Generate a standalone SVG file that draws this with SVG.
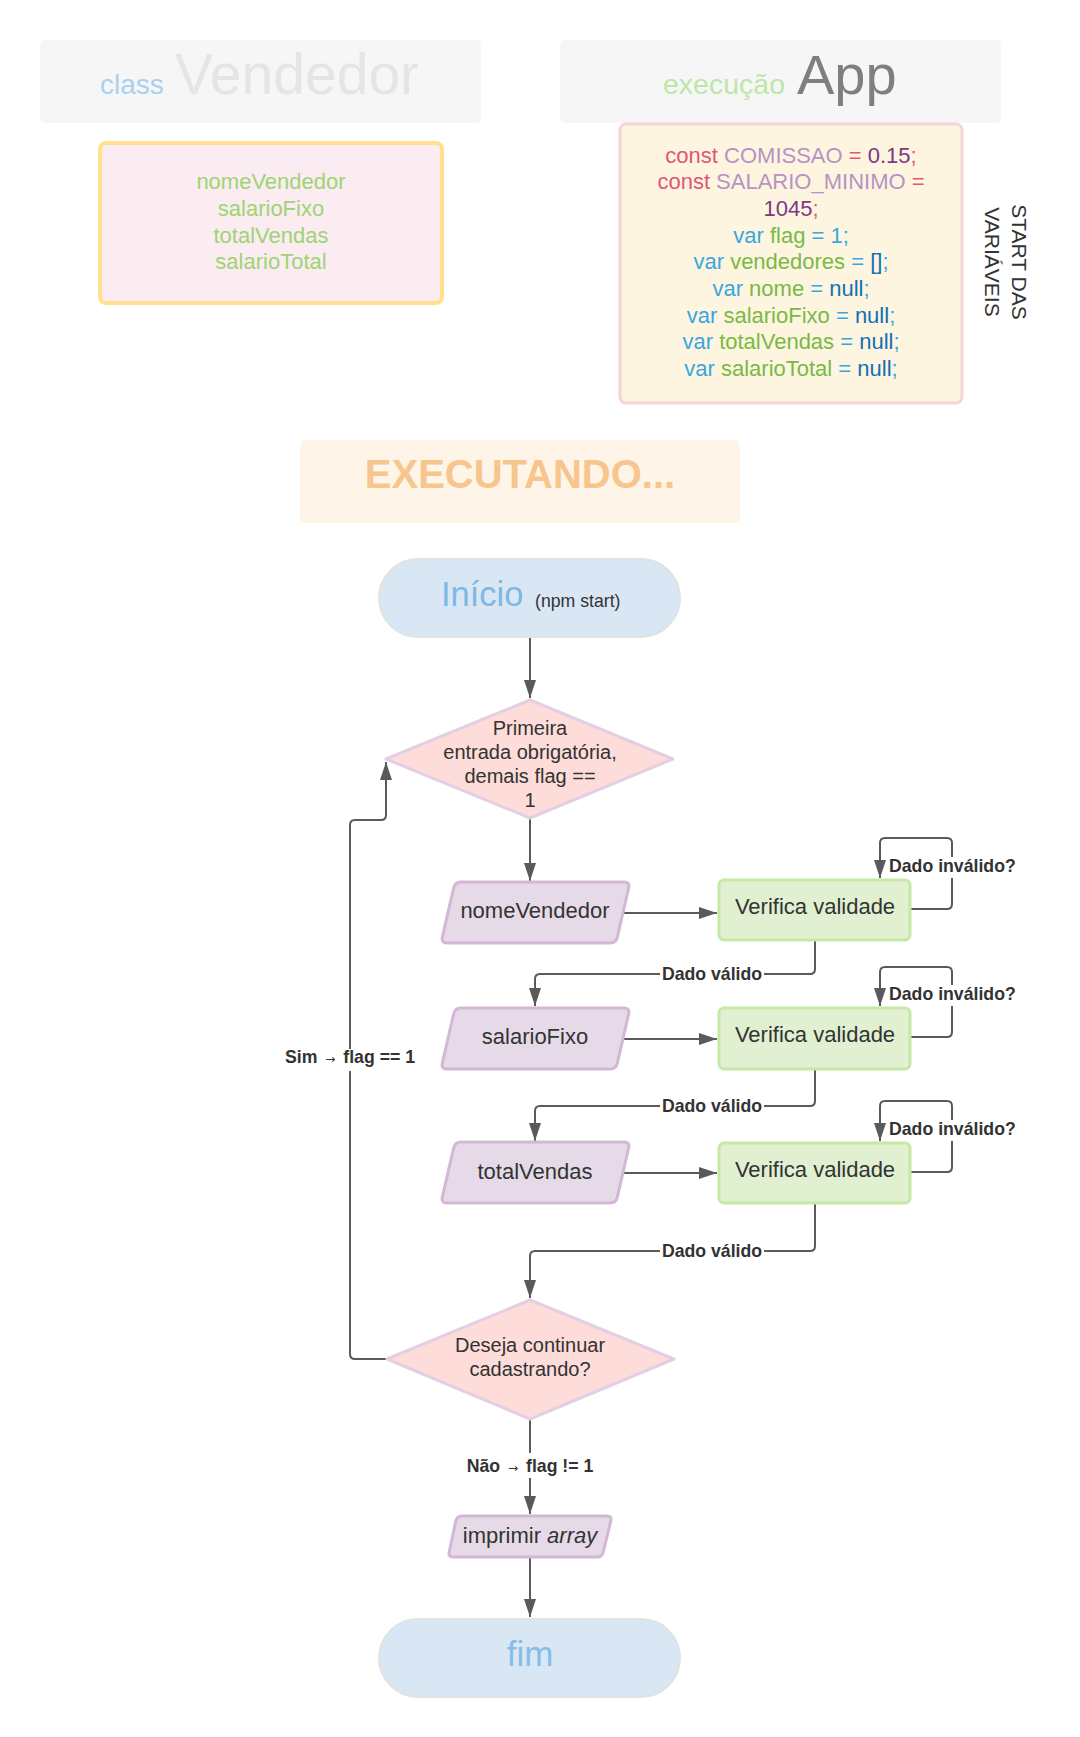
<svg xmlns="http://www.w3.org/2000/svg" width="1080" height="1737" viewBox="0 0 1080 1737">
<style>
text{font-family:"Liberation Sans",Arial,sans-serif;fill:#333333}
.hdr{fill:#F6F6F6}
.attr{fill:#9ED474;font-size:22px}
.code{font-size:22px}
.k{fill:#E0567B}.cn{fill:#B892C4}.num{fill:#7C3883}
.v{fill:#38A7DF}.id{fill:#78BA45}.nl{fill:#1170B5}
.term{fill:#D9E7F4;stroke:#E2E2E2;stroke-width:2}
.dec{fill:#FDDCD9;stroke:#E3CFE3;stroke-width:3;stroke-linejoin:round}
.io{fill:#E6DAE8;stroke:#D3B8D6;stroke-width:3}
.proc{fill:#E0F0D1;stroke:#C5E8A6;stroke-width:3}
.nt{font-size:22px}
.dt{font-size:20px}
.lbl{font-size:17.7px;font-weight:bold}
.arr{font-family:"DejaVu Sans",sans-serif;font-size:12px;font-weight:normal}
.bg{fill:#FFFFFF}
.edge{fill:none;stroke:#5A5A5A;stroke-width:2}
</style>
<defs>
<marker id="ah" markerUnits="userSpaceOnUse" markerWidth="18" markerHeight="12" refX="18" refY="6" orient="auto">
<path d="M0,0 L18,6 L0,12 Z" fill="#5A5A5A"/>
</marker>
<path id="para" d="M461,0 L624,0 Q630,0 628.66,5.85 L617.34,55.15 Q616,61 610,61 L447,61 Q441,61 442.34,55.15 L453.66,5.85 Q455,0 461,0 Z"/>
</defs>

<g id="class-vendedor">
<rect class="hdr" x="40" y="40" width="441" height="83" rx="5"/>
<text x="100" y="94" font-size="28" style="fill:#A9D1EF">class</text>
<text x="175" y="94" font-size="57" style="fill:#E5E5E5">Vendedor</text>
</g>

<g id="vendedor-attrs">
<rect x="100" y="143" width="342" height="160" rx="6" fill="#FBECF1" stroke="#FFE08C" stroke-width="4"/>
<text class="attr" text-anchor="middle" x="271" y="189">nomeVendedor</text>
<text class="attr" text-anchor="middle" x="271" y="216">salarioFixo</text>
<text class="attr" text-anchor="middle" x="271" y="243">totalVendas</text>
<text class="attr" text-anchor="middle" x="271" y="269">salarioTotal</text>
</g>

<g id="execucao-app">
<rect class="hdr" x="560" y="40" width="441" height="83" rx="5"/>
<text x="663" y="94" font-size="28.5" style="fill:#BDE7A6">execução</text>
<text x="797" y="94" font-size="56" style="fill:#7F7F7F">App</text>
</g>

<g id="app-vars">
<rect x="620" y="124" width="342" height="279" rx="6" fill="#FEF5E0" stroke="#F8D2D7" stroke-width="3"/>
<text class="code" text-anchor="middle" x="791" y="163"><tspan class="k">const</tspan><tspan class="cn"> COMISSAO </tspan><tspan class="k">=</tspan><tspan class="num"> 0.15</tspan><tspan class="k">;</tspan></text>
<text class="code" text-anchor="middle" x="791" y="189"><tspan class="k">const</tspan><tspan class="cn"> SALARIO_MINIMO </tspan><tspan class="k">=</tspan></text>
<text class="code" text-anchor="middle" x="791" y="216"><tspan class="num">1045</tspan><tspan class="k">;</tspan></text>
<text class="code" text-anchor="middle" x="791" y="243"><tspan class="v">var </tspan><tspan class="id">flag</tspan><tspan class="v"> = 1;</tspan></text>
<text class="code" text-anchor="middle" x="791" y="269"><tspan class="v">var </tspan><tspan class="id">vendedores</tspan><tspan class="v"> = </tspan><tspan class="nl">[]</tspan><tspan class="v">;</tspan></text>
<text class="code" text-anchor="middle" x="791" y="296"><tspan class="v">var </tspan><tspan class="id">nome</tspan><tspan class="v"> = </tspan><tspan class="nl">null</tspan><tspan class="v">;</tspan></text>
<text class="code" text-anchor="middle" x="791" y="323"><tspan class="v">var </tspan><tspan class="id">salarioFixo</tspan><tspan class="v"> = </tspan><tspan class="nl">null</tspan><tspan class="v">;</tspan></text>
<text class="code" text-anchor="middle" x="791" y="349"><tspan class="v">var </tspan><tspan class="id">totalVendas</tspan><tspan class="v"> = </tspan><tspan class="nl">null</tspan><tspan class="v">;</tspan></text>
<text class="code" text-anchor="middle" x="791" y="376"><tspan class="v">var </tspan><tspan class="id">salarioTotal</tspan><tspan class="v"> = </tspan><tspan class="nl">null</tspan><tspan class="v">;</tspan></text>
</g>

<g id="start-label">
<text transform="translate(1012,262) rotate(90)" text-anchor="middle" font-size="21">START DAS</text>
<text transform="translate(985,262) rotate(90)" text-anchor="middle" font-size="21">VARIÁVEIS</text>
</g>

<g id="executando">
<rect x="300" y="440" width="440" height="83" rx="5" fill="#FEF5E8"/>
<text x="520" y="488" text-anchor="middle" font-size="40" font-weight="bold" style="fill:#F7C58E">EXECUTANDO...</text>
</g>

<g id="connectors">
<path class="edge" d="M530,637 L530,698" marker-end="url(#ah)"/>
<path class="edge" d="M530,818 L530,881" marker-end="url(#ah)"/>
<path class="edge" d="M624,913 L717,913" marker-end="url(#ah)"/>
<path class="edge" d="M624,1039 L717,1039" marker-end="url(#ah)"/>
<path class="edge" d="M624,1173 L717,1173" marker-end="url(#ah)"/>
<path class="edge" d="M911,909 L947,909 Q952,909 952,904 L952,843 Q952,838 947,838 L885,838 Q880,838 880,843 L880,878" marker-end="url(#ah)"/>
<path class="edge" d="M911,1037 L947,1037 Q952,1037 952,1032 L952,972 Q952,967 947,967 L885,967 Q880,967 880,972 L880,1006" marker-end="url(#ah)"/>
<path class="edge" d="M911,1172 L947,1172 Q952,1172 952,1167 L952,1106 Q952,1101 947,1101 L885,1101 Q880,1101 880,1106 L880,1141" marker-end="url(#ah)"/>
<path class="edge" d="M815,940 L815,969 Q815,974 810,974 L540,974 Q535,974 535,979 L535,1006" marker-end="url(#ah)"/>
<path class="edge" d="M815,1069 L815,1101 Q815,1106 810,1106 L540,1106 Q535,1106 535,1111 L535,1141" marker-end="url(#ah)"/>
<path class="edge" d="M815,1203 L815,1246 Q815,1251 810,1251 L535,1251 Q530,1251 530,1256 L530,1298" marker-end="url(#ah)"/>
<path class="edge" d="M387,1359 L355,1359 Q350,1359 350,1354 L350,825 Q350,820 355,820 L381,820 Q386,820 386,815 L386,762" marker-end="url(#ah)"/>
<path class="edge" d="M530,1419 L530,1514" marker-end="url(#ah)"/>
<path class="edge" d="M530,1557 L530,1617" marker-end="url(#ah)"/>
<rect class="bg" x="887" y="857" width="130" height="21"/>
<text class="lbl" x="889" y="872">Dado inválido?</text>
<rect class="bg" x="887" y="985" width="130" height="21"/>
<text class="lbl" x="889" y="1000">Dado inválido?</text>
<rect class="bg" x="887" y="1120" width="130" height="21"/>
<text class="lbl" x="889" y="1135">Dado inválido?</text>
<rect class="bg" x="660" y="963" width="104" height="21"/>
<text class="lbl" x="712" y="980" text-anchor="middle">Dado válido</text>
<rect class="bg" x="660" y="1095" width="104" height="21"/>
<text class="lbl" x="712" y="1112" text-anchor="middle">Dado válido</text>
<rect class="bg" x="660" y="1240" width="104" height="21"/>
<text class="lbl" x="712" y="1257" text-anchor="middle">Dado válido</text>
<rect class="bg" x="280" y="1049" width="140" height="22"/>
<text class="lbl" x="350" y="1063" text-anchor="middle">Sim <tspan class="arr" dx="3">→</tspan><tspan dx="3"> flag == 1</tspan></text>
<rect class="bg" x="462" y="1453" width="136" height="25"/>
<text class="lbl" x="530" y="1472" text-anchor="middle">Não <tspan class="arr" dx="3">→</tspan><tspan dx="3"> flag != 1</tspan></text>
</g>

<g id="inicio">
<rect class="term" x="379" y="559" width="301" height="78" rx="39"/>
<text x="441" y="606" font-size="34.5" style="fill:#7FB8E5">Início</text>
<text x="535" y="607" font-size="17.7">(npm start)</text>
</g>

<g id="decisao-entrada">
<polygon class="dec" points="530,700 673,759 530,818 386,759"/>
<text class="dt" text-anchor="middle" x="530" y="735">Primeira</text>
<text class="dt" text-anchor="middle" x="530" y="759">entrada obrigatória,</text>
<text class="dt" text-anchor="middle" x="530" y="783">demais flag ==</text>
<text class="dt" text-anchor="middle" x="530" y="807">1</text>
</g>

<g id="input-nomeVendedor">
<use href="#para" class="io" transform="translate(0,882)"/>
<text class="nt" x="535" y="918" text-anchor="middle">nomeVendedor</text>
</g>
<g id="verifica-1">
<rect class="proc" x="719" y="880" width="191" height="60" rx="5"/>
<text class="nt" x="815" y="914" text-anchor="middle">Verifica validade</text>
</g>

<g id="input-salarioFixo">
<use href="#para" class="io" transform="translate(0,1008)"/>
<text class="nt" x="535" y="1044" text-anchor="middle">salarioFixo</text>
</g>
<g id="verifica-2">
<rect class="proc" x="719" y="1008" width="191" height="61" rx="5"/>
<text class="nt" x="815" y="1042" text-anchor="middle">Verifica validade</text>
</g>

<g id="input-totalVendas">
<use href="#para" class="io" transform="translate(0,1142)"/>
<text class="nt" x="535" y="1179" text-anchor="middle">totalVendas</text>
</g>
<g id="verifica-3">
<rect class="proc" x="719" y="1143" width="191" height="60" rx="5"/>
<text class="nt" x="815" y="1177" text-anchor="middle">Verifica validade</text>
</g>

<g id="decisao-continuar">
<polygon class="dec" points="530,1300 674,1359 530,1419 387,1359"/>
<text class="dt" text-anchor="middle" x="530" y="1352">Deseja continuar</text>
<text class="dt" text-anchor="middle" x="530" y="1376">cadastrando?</text>
</g>

<g id="imprimir">
<path class="io" d="M462,1516 L607,1516 Q612,1516 610.8,1520.9 L603.2,1552.1 Q602,1557 597,1557 L453,1557 Q448,1557 449.2,1552.1 L455.8,1520.9 Q457,1516 462,1516 Z"/>
<text class="nt" x="530" y="1543" text-anchor="middle">imprimir <tspan font-style="italic">array</tspan></text>
</g>

<g id="fim">
<rect class="term" x="379" y="1619" width="301" height="78" rx="39"/>
<text x="530" y="1666" text-anchor="middle" font-size="35" style="fill:#85BDE8">fim</text>
</g>
</svg>
